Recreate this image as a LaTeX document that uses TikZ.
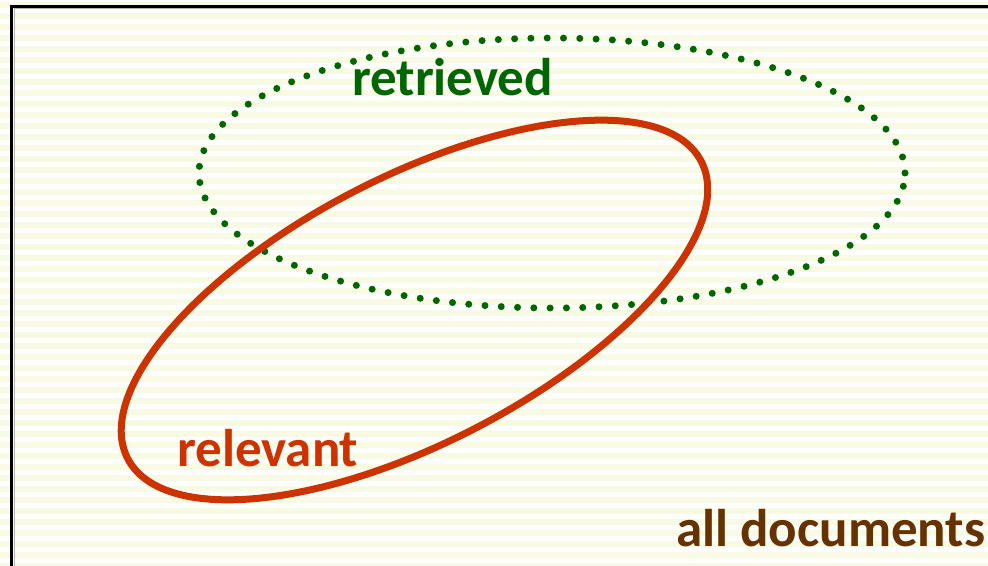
\documentclass[tikz,border=0pt]{standalone}
\usepackage{fontspec}
\setmainfont{Carlito}
\definecolor{stripe}{HTML}{F8FAE4}
\definecolor{retgreen}{HTML}{006600}
\definecolor{relred}{HTML}{CC3300}
\definecolor{docbrown}{HTML}{663300}
\tikzset{
  lbl/.style={inner sep=0pt, anchor=base west, font=\bfseries\fontsize{53}{58}\selectfont},
  retset/.style={draw=retgreen, line width=7pt, line cap=round, dash pattern=on 0pt off 16.3pt},
  relset/.style={draw=relred, line width=7pt},
}
\begin{document}
\begin{tikzpicture}[x=1pt,y=-1pt]
\useasboundingbox (0,0) rectangle (988,565);
\clip (0,0) rectangle (988,565);
\fill[white] (0,0) rectangle (988,565);
\foreach \k in {-1,...,52} {
  \fill[stripe] (0,{2+11*\k}) rectangle (988,{7.5+11*\k});
}
% border with faint shadow
\draw[gray!60, line width=1pt] (14,8.5) -- (1000,8.5);
\draw[gray!60, line width=1pt] (14,8.5) -- (14,600);
\draw[black, line width=3pt] (1000,6.5) -- (11.5,6.5) -- (11.5,600);
% retrieved set
\coordinate (rc) at (552,173);
\path[retset] (rc) ellipse [x radius=353pt, y radius=135pt];
% relevant set
\coordinate (lc) at (414.5,310);
\draw[relset, rotate around={27.4:(lc)}] (lc) ellipse [x radius=323pt, y radius=133pt];
% labels
\node[lbl, text=retgreen] (ret) at (352,95) {retrieved};
\node[lbl, text=relred] (rel) at (177,466) {relevant};
\node[lbl, text=docbrown] (all) at (676,546) {all documents};
\end{tikzpicture}
\end{document}
